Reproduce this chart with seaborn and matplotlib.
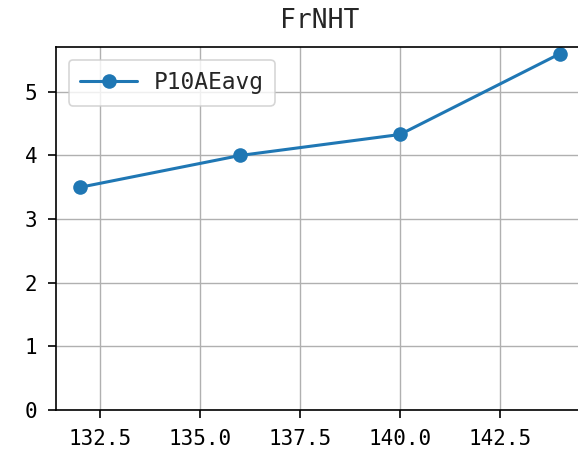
import numpy as np
import pandas as pd
import matplotlib
matplotlib.use("Agg")
import matplotlib.pyplot as plt
import seaborn as sns

# ---- data ----
x_vals = [132, 136, 140, 144]
y_vals = [3.5, 4.0, 4.33, 5.6]
series_name = "P10AEavg"
title = "FrNHT"

df = pd.DataFrame({"x": x_vals, "y": y_vals, "series": series_name})

sns.set_style("ticks")
plt.rcParams['font.family'] = ['DejaVu Sans Mono', 'DejaVu Sans']

fig = plt.figure(figsize=(5.78, 4.54), dpi=100)
ax = fig.add_axes([56 / 578, 1 - 410 / 454, (584 - 56) / 578, (410 - 47) / 454])

sns.lineplot(data=df, x="x", y="y", hue="series", marker="o", markersize=10.5,
             markeredgewidth=0, linewidth=2.2, palette=["#1f77b4"], ax=ax)

ax.set_ylim(bottom=0)
ax.set_xlim(131.4, 144.6)
ax.set_xticks([132.5, 135.0, 137.5, 140.0, 142.5])
ax.set_xticklabels(["132.5", "135.0", "137.5", "140.0", "142.5"])
ax.grid(True, color="#b0b0b0", linewidth=1)
ax.set_xlabel("")
ax.set_ylabel("")
ax.tick_params(labelsize=15, length=6, width=1.2, pad=7.5, colors="black")
for s in ax.spines.values():
    s.set_linewidth(1.2)
    s.set_color("black")
ax.set_title(title, fontsize=19, pad=13.5)
leg = ax.legend(loc="upper left", fontsize=16.5, frameon=True,
                handlelength=2.5, handletextpad=0.7, borderaxespad=0.55,
                borderpad=0.5)
leg.get_frame().set_edgecolor("#cccccc")
leg.get_frame().set_linewidth(1.2)

fig.savefig("out.png", dpi=100)
